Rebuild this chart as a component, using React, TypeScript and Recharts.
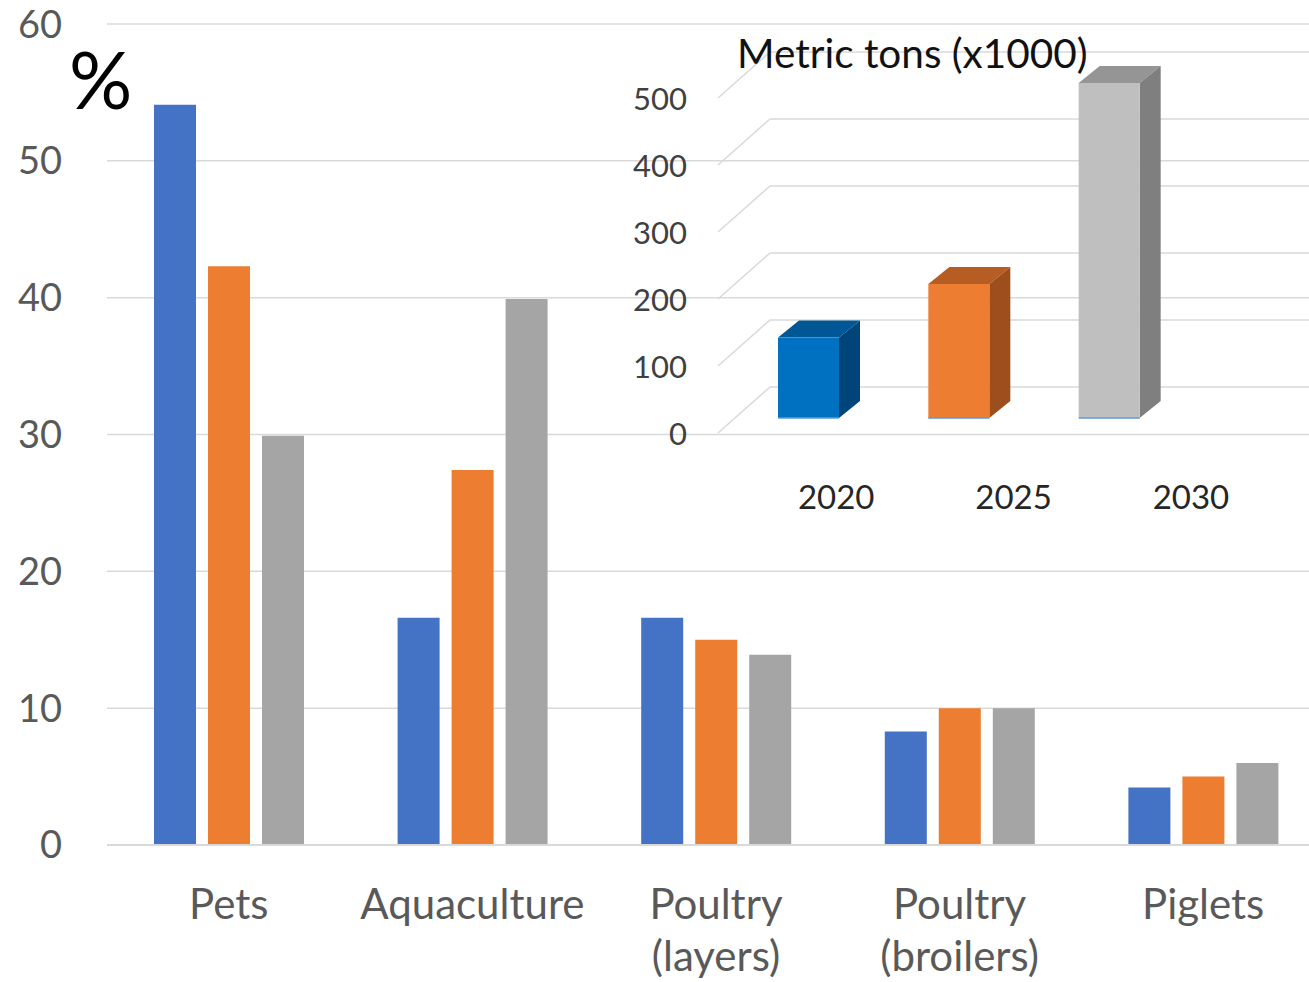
import { BarChart, Bar, XAxis, YAxis, CartesianGrid, Cell } from "recharts";

// main chart: share of total (%) by species
const categories = ["Pets", "Aquaculture", "Poultry\n(layers)", "Poultry\n(broilers)", "Piglets"];
const share2020 = [54.1, 16.6, 16.6, 8.3, 4.2];
const share2025 = [42.3, 27.4, 15.0, 10.0, 5.0];
const share2030 = [29.9, 39.9, 13.9, 10.0, 6.0];
const pctTicks = [0, 10, 20, 30, 40, 50, 60];

// inset: total volume, metric tons (x1000)
const years = ["2020", "2025", "2030"];
const tons = [120, 200, 500];
const tonTicks = [0, 100, 200, 300, 400, 500];

const FONT = "Lato, 'Open Sans', sans-serif";
const BLUE = "#4472C4";
const ORANGE = "#ED7D31";
const GRAY = "#A5A5A5";

const boxFront = ["#0070C0", "#ED7D31", "#BFBFBF"];
const boxTop = ["#005796", "#B65D23", "#959595"];
const boxSide = ["#00457A", "#9C4F1C", "#7F7F7F"];

const DX = 21;
const DY = -17;

const data = categories.map((c, i) => ({
  name: c,
  y2020: share2020[i],
  y2025: share2025[i],
  y2030: share2030[i],
}));

const insetData = years.map((y, i) => ({ year: y, tons: tons[i] }));

function CategoryTick({ x, y, payload }: any) {
  const lines = String(payload.value).split("\n");
  return (
    <text x={x} y={y + 52} textAnchor="middle" fill="#595959" fontSize={42} fontFamily={FONT}>
      {lines.map((l, i) => (
        <tspan key={i} x={x} dy={i === 0 ? 14 : 52}>
          {l}
        </tspan>
      ))}
    </text>
  );
}

function Box3D(props: any) {
  const { x, y, width, height, index } = props;
  if (height <= 0) return null;
  const r = x + width;
  const b = y + height;
  return (
    <g>
      <polygon
        points={`${x},${y} ${x + DX},${y + DY} ${r + DX},${y + DY} ${r},${y}`}
        fill={boxTop[index]}
      />
      <polygon
        points={`${r},${y} ${r + DX},${y + DY} ${r + DX},${b + DY} ${r},${b}`}
        fill={boxSide[index]}
      />
      <rect x={x} y={y} width={width} height={height} fill={boxFront[index]} />
      <line x1={x} y1={b} x2={r} y2={b} stroke="#5B9BD5" strokeWidth={1.5} />
    </g>
  );
}

function WallLine(props: any) {
  const { x1, x2, y } = props;
  const yy = props.y1 ?? y;
  return (
    <g key={props.key}>
      <line x1={x1 + 37} y1={yy - 31} x2={x2 + 125} y2={yy - 31} stroke="#D9D9D9" strokeWidth={1.5} />
      <line x1={x1 + 37} y1={yy - 31} x2={x1 - 15} y2={yy + 15} stroke="#D9D9D9" strokeWidth={1.5} />
    </g>
  );
}

function TonTick({ x, y, payload }: any) {
  return (
    <text
      x={x - 46}
      y={y + 15}
      textAnchor="end"
      dominantBaseline="central"
      fill="#404040"
      fontSize={31}
      fontFamily={FONT}
    >
      {payload.value}
    </text>
  );
}

function YearTick({ x, y, payload }: any) {
  const sx = 836 - 600 + (x - (808 - 600)) * 1.18;
  return (
    <text x={sx} y={y + 70} textAnchor="middle" dominantBaseline="central" fill="#262626" fontSize={33} fontFamily={FONT}>
      {payload.value}
    </text>
  );
}

export default function App() {
  return (
    <div
      style={{
        position: "absolute",
        left: 0,
        top: 0,
        width: 1309,
        height: 982,
        overflow: "hidden",
        background: "#fff",
        fontFamily: FONT,
      }}
    >
      <div style={{ position: "absolute", left: 0, top: 0 }}>
        <BarChart
          width={1325}
          height={982}
          data={data}
          margin={{ top: 24, right: 0, left: 0, bottom: 0 }}
          barSize={42}
          barGap={12}
        >
          <CartesianGrid vertical={false} stroke="#D9D9D9" strokeWidth={1.5} />
          <XAxis
            dataKey="name"
            height={137}
            axisLine={{ stroke: "#D9D9D9", strokeWidth: 2 }}
            tickLine={false}
            interval={0}
            tick={<CategoryTick />}
          />
          <YAxis
            width={107}
            domain={[0, 60]}
            ticks={pctTicks}
            axisLine={false}
            tickLine={false}
            tickSize={0}
            tickMargin={45}
            tick={{ fontSize: 38, fill: "#595959", fontFamily: FONT }}
          />
          <Bar dataKey="y2020" fill={BLUE} isAnimationActive={false} />
          <Bar dataKey="y2025" fill={ORANGE} isAnimationActive={false} />
          <Bar dataKey="y2030" fill={GRAY} isAnimationActive={false} />
        </BarChart>
      </div>

      <div style={{ position: "absolute", left: 600, top: 0 }}>
        <BarChart
          width={709}
          height={530}
          data={insetData}
          margin={{ top: 83, right: 125, left: 0, bottom: 0 }}
          barSize={61}
        >
          <CartesianGrid vertical={false} horizontal={(p: any) => <WallLine {...p} />} />
          <XAxis dataKey="year" height={112} axisLine={false} tickLine={false} tick={<YearTick />} />
          <YAxis
            width={133}
            domain={[0, 500]}
            ticks={tonTicks}
            axisLine={false}
            tickLine={false}
            tickSize={0}
            tickMargin={0}
            tick={<TonTick />}
          />
          <Bar dataKey="tons" isAnimationActive={false} shape={(p: any) => <Box3D {...p} />}>
            {insetData.map((d, i) => (
              <Cell key={d.year} fill={boxFront[i]} />
            ))}
          </Bar>
        </BarChart>
      </div>

      <div
        style={{
          position: "absolute",
          left: 69,
          top: 39,
          fontSize: 79,
          color: "#000",
          lineHeight: 1,
        }}
      >
        %
      </div>
      <div
        style={{
          position: "absolute",
          left: 737,
          top: 33,
          fontSize: 40.5,
          color: "#111",
          lineHeight: 1,
          whiteSpace: "nowrap",
        }}
      >
        Metric tons (x1000)
      </div>
    </div>
  );
}
